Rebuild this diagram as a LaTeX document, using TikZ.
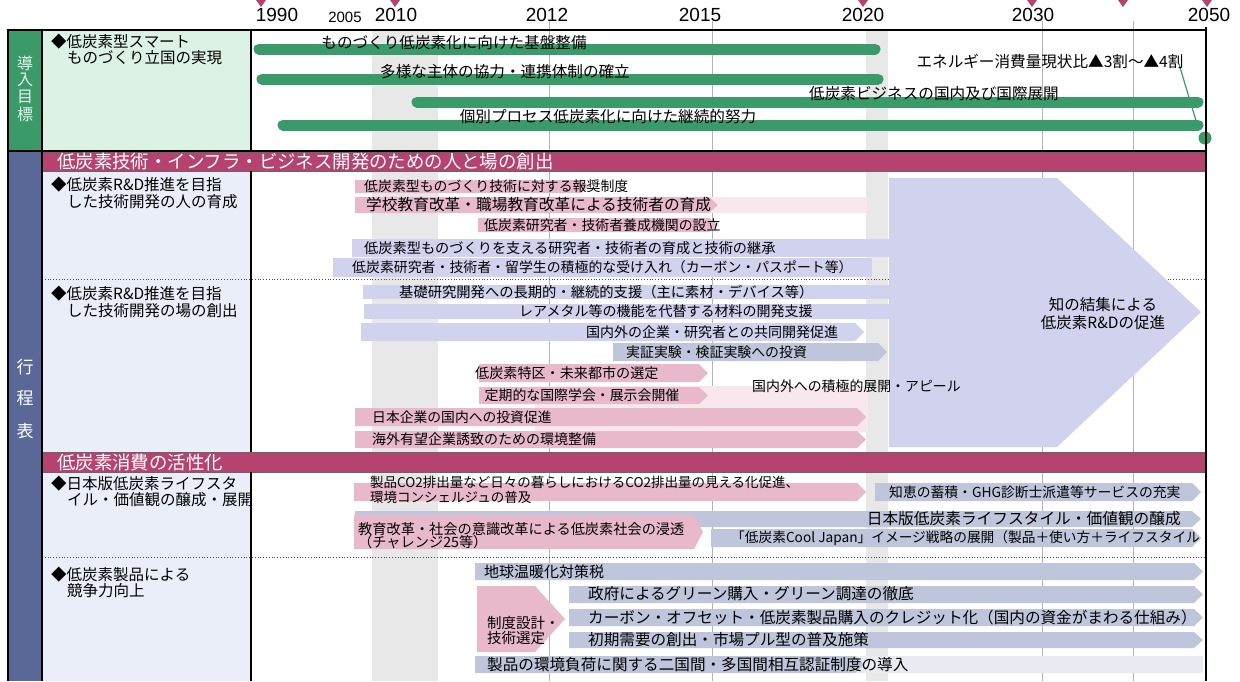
\documentclass[tikz,border=0pt]{standalone}
\usepackage{fontspec}
\setmainfont{Liberation Sans}
\newfontfamily\jp{Noto Sans CJK JP}
\definecolor{cgreen}{RGB}{58,154,106}
\definecolor{clgreen}{RGB}{220,242,228}
\definecolor{cslate}{RGB}{90,104,152}
\definecolor{clblue}{RGB}{234,238,249}
\definecolor{cmag}{RGB}{181,66,111}
\definecolor{cpink}{RGB}{232,185,203}
\definecolor{clpink}{RGB}{248,232,238}
\definecolor{clav}{RGB}{208,210,238}
\definecolor{cgb}{RGB}{191,197,218}
\definecolor{clgb}{RGB}{233,235,243}
\definecolor{cband}{RGB}{232,232,232}
\definecolor{cgrid}{RGB}{180,180,180}
\newcommand{\chevbar}[5]{\fill[#1] (#2,#4) -- ({#3-9},#4) -- (#3,{(#4+#5)/2}) -- ({#3-9},#5) -- (#2,#5) -- cycle;}
\newcommand{\jt}[5]{\node[anchor=west,inner sep=0pt,font={\jp\fontsize{#2}{#2}\selectfont}] (#1) at (#3,#4) {#5};}
\newcommand{\jc}[5]{\node[anchor=center,inner sep=0pt,font={\jp\fontsize{#2}{#2}\selectfont}] (#1) at (#3,#4) {#5};}
\newcommand{\je}[5]{\node[anchor=east,inner sep=0pt,font={\jp\fontsize{#2}{#2}\selectfont}] (#1) at (#3,#4) {#5};}
\begin{document}
\begin{tikzpicture}[x=1pt,y=-1pt,
  year/.style={inner sep=0pt,font=\fontsize{19}{19}\selectfont},
  gbar/.style={cgreen,line width=11pt,line cap=round},
  frame/.style={black,line width=2.5pt},
  divider/.style={black,line width=1.2pt},
  dotline/.style={black!70,dotted,line width=0.8pt}]
\useasboundingbox (0,0) rectangle (1240,681);
\fill[white] (0,0) rectangle (1240,681);
% columns
\fill[cgreen] (8,30) rectangle (42,151);
\fill[clgreen] (42,30) rectangle (251,151);
\fill[cslate] (8,151) rectangle (42,681);
\fill[clblue] (42,171) rectangle (251,681);
% bands
\fill[cband] (372,30) rectangle (438,681);
\fill[cband] (866,30) rectangle (888,681);
% grid
\foreach \gx in {549,712,1042,1133} \draw[cgrid,line width=0.8pt] (\gx,21) -- (\gx,681);
% dotted separators
\draw[dotline] (42,279) -- (1206,279);
\draw[dotline] (42,557) -- (1206,557);
% triangles
\foreach \tx in {261,395,863,1032,1123,1207} \fill[cmag] ({\tx-5},0) -- ({\tx+5},0) -- (\tx,7) -- cycle;
% years
\node[year] (y1990) at (277,15) {1990};
\node[year,font=\fontsize{15}{15}\selectfont] (y2005) at (345,17) {2005};
\node[year] (y2010) at (396,15) {2010};
\node[year] (y2012) at (547,15) {2012};
\node[year] (y2015) at (700,15) {2015};
\node[year] (y2020) at (863,15) {2020};
\node[year] (y2030) at (1033,15) {2030};
\node[year] (y2050) at (1209,15) {2050};
% green bars
\draw[gbar] (259,49) -- (875,49);
\draw[gbar] (262,79) -- (878,79);
\draw[gbar] (417,102) -- (1198,102);
\draw[gbar] (283,125) -- (1198,125);
\fill[cgreen] (1205,138) circle (6.5);
\draw[cgreen,line width=1.2pt] (1179,64) -- (1197,124);
\jc{g1}{15.6}{454}{43}{ものづくり低炭素化に向けた基盤整備}
\jc{g2}{15.6}{505}{72}{多様な主体の協力・連携体制の確立}
\jc{g3}{15.6}{934}{94}{低炭素ビジネスの国内及び国際展開}
\jc{g4}{15.6}{608}{117}{個別プロセス低炭素化に向けた継続的努力}
\jc{g5}{15.6}{1050}{62}{エネルギー消費量現状比▲3割～▲4割}
% section 1 bars
\chevbar{cpink}{355}{590}{180}{193}
\fill[clpink] (355,197) rectangle (867,213);
\chevbar{cpink}{355}{718}{197}{213}
\chevbar{cpink}{478}{718}{218}{232}
\fill[clav] (352,239) rectangle (889,257);
\fill[clav] (333,258) rectangle (872,277);
\jt{a1}{13.9}{364}{186.5}{低炭素型ものづくり技術に対する報奨制度}
\jt{a2}{15.7}{366}{205}{学校教育改革・職場教育改革による技術者の育成}
\jt{a3}{13.9}{484}{225}{低炭素研究者・技術者養成機関の設立}
\jt{a4}{14.2}{364}{248}{低炭素型ものづくりを支える研究者・技術者の育成と技術の継承}
\jt{a5}{13.9}{352}{267}{低炭素研究者・技術者・留学生の積極的な受け入れ（カーボン・パスポート等）}
% section 2 bars
\fill[clav] (363,285) rectangle (889,299);
\fill[clav] (364,304) rectangle (889,319);
\chevbar{clav}{361}{864}{323}{341}
\chevbar{cgb}{613}{887}{343}{361}
\fill[clpink] (535,386) rectangle (868,432);
\chevbar{cpink}{479}{708}{364}{382}
\chevbar{cpink}{479}{708}{387}{404}
\chevbar{cpink}{355}{866}{408}{426}
\chevbar{cpink}{355}{866}{431}{448}
\fill[clav] (889,178) -- (1057,178) -- (1201,312) -- (1057,447) -- (889,447) -- cycle;
\jt{b1}{14.3}{399}{292}{基礎研究開発への長期的・継続的支援（主に素材・デバイス等）}
\jt{b2}{14}{519}{311}{レアメタル等の機能を代替する材料の開発支援}
\jt{b3}{14}{586}{332}{国内外の企業・研究者との共同開発促進}
\jt{b4}{13.9}{626}{352}{実証実験・検証実験への投資}
\jt{b5}{14.1}{475}{373}{低炭素特区・未来都市の選定}
\jt{b6}{13.9}{484.5}{395}{定期的な国際学会・展示会開催}
\jt{b7}{13.9}{752}{386}{国内外への積極的展開・アピール}
\jt{b8}{13.8}{372}{417}{日本企業の国内への投資促進}
\jt{b9}{14}{372}{439}{海外有望企業誘致のための環境整備}
\jc{b10}{15.5}{1103}{305}{知の結集による}
\jc{b11}{15.5}{1103}{323}{低炭素R\&Dの促進}
% section 3 bars
\chevbar{cpink}{354}{866}{483}{501}
\chevbar{cgb}{875}{1201}{483}{501}
\chevbar{cgb}{355}{1201}{511}{527}
\chevbar{cpink}{354}{703}{515}{549}
\chevbar{cgb}{711}{1201}{529}{547}
\jt{c1}{13.5}{370}{482}{製品CO2排出量など日々の暮らしにおけるCO2排出量の見える化促進、}
\jt{c2}{13.5}{370}{497}{環境コンシェルジュの普及}
\jt{c3}{13.8}{889}{492}{知恵の蓄積・GHG診断士派遣等サービスの充実}
\je{c4}{15.7}{1181}{519}{日本版低炭素ライフスタイル・価値観の醸成}
\jt{c5}{14.2}{358}{529}{教育改革・社会の意識改革による低炭素社会の浸透}
\jt{c6}{14.2}{358}{542}{（チャレンジ25等）}
\jt{c7}{13.7}{731}{538}{「低炭素Cool Japan」イメージ戦略の展開（製品＋使い方＋ライフスタイル}
% section 4 bars
\chevbar{cgb}{475}{1203}{563}{580}
\fill[cpink] (477,586) -- (535,586) -- (565,619) -- (535,652) -- (477,652) -- cycle;
\chevbar{cgb}{569}{1203}{586}{603}
\chevbar{cgb}{569}{1203}{609}{626}
\chevbar{cgb}{569}{1203}{632}{648}
\fill[clgb] (475,656) rectangle (1203,673);
\chevbar{cgb}{475}{864}{656}{673}
\jt{d1}{15}{484}{572}{地球温暖化対策税}
\jt{d2}{14.5}{487}{623}{制度設計・}
\jt{d3}{14.5}{487}{638}{技術選定}
\jt{d4}{15.6}{588}{594}{政府によるグリーン購入・グリーン調達の徹底}
\jt{d5}{15.6}{588}{617.5}{カーボン・オフセット・低炭素製品購入のクレジット化（国内の資金がまわる仕組み）}
\jt{d6}{15.6}{588}{640}{初期需要の創出・市場プル型の普及施策}
\jt{d7}{15.6}{487}{665}{製品の環境負荷に関する二国間・多国間相互認証制度の導入}
% headers
\filldraw[fill=cmag,draw=black!60,line width=0.8pt] (42,152) rectangle (1206,171);
\filldraw[fill=cmag,draw=black!60,line width=0.8pt] (42,452) rectangle (1206,472);
\node[anchor=west,inner sep=0pt,text=white,font={\jp\fontsize{18.4}{18.4}\selectfont}] (h1) at (57,161.5) {低炭素技術・インフラ・ビジネス開発のための人と場の創出};
\node[anchor=west,inner sep=0pt,text=white,font={\jp\fontsize{18.4}{18.4}\selectfont}] (h2) at (57,462.5) {低炭素消費の活性化};
% frame
\draw[frame] (8,30) -- (1206,30);
\draw[frame] (8,151) -- (1206,151);
\draw[frame] (8,28.75) -- (8,681);
\draw[frame] (1206,27) -- (1206,681);
\draw[divider] (42,30) -- (42,681);
\draw[divider] (251,30) -- (251,151);
\draw[divider] (251,171) -- (251,452);
\draw[divider] (251,472) -- (251,681);
% vertical column labels
\foreach \ch/\vy [count=\i] in {導/63,入/80,目/97,標/114}
  \node[inner sep=0pt,text=white!88!cgreen,font={\jp\fontsize{16}{16}\selectfont}] (v\i) at (25,\vy) {\ch};
\foreach \ch/\vy [count=\i] in {行/367,程/398,表/431}
  \node[inner sep=0pt,text=white,font={\jp\fontsize{17}{17}\selectfont}] (w\i) at (25,\vy) {\ch};
% row labels
\jt{l1}{15.5}{51}{42}{◆低炭素型スマート}
\jt{l2}{15.5}{67}{58}{ものづくり立国の実現}
\jt{l3}{15.5}{51}{185}{◆低炭素R\&D推進を目指}
\jt{l4}{15.5}{67}{202}{した技術開発の人の育成}
\jt{l5}{15.5}{51}{294}{◆低炭素R\&D推進を目指}
\jt{l6}{15.5}{67}{311}{した技術開発の場の創出}
\jt{l7}{15.5}{51}{484}{◆日本版低炭素ライフスタ}
\jt{l8}{15.5}{67}{500}{イル・価値観の醸成・展開}
\jt{l9}{15.5}{51}{575}{◆低炭素製品による}
\jt{l10}{15.5}{67}{591}{競争力向上}
\end{tikzpicture}
\end{document}
